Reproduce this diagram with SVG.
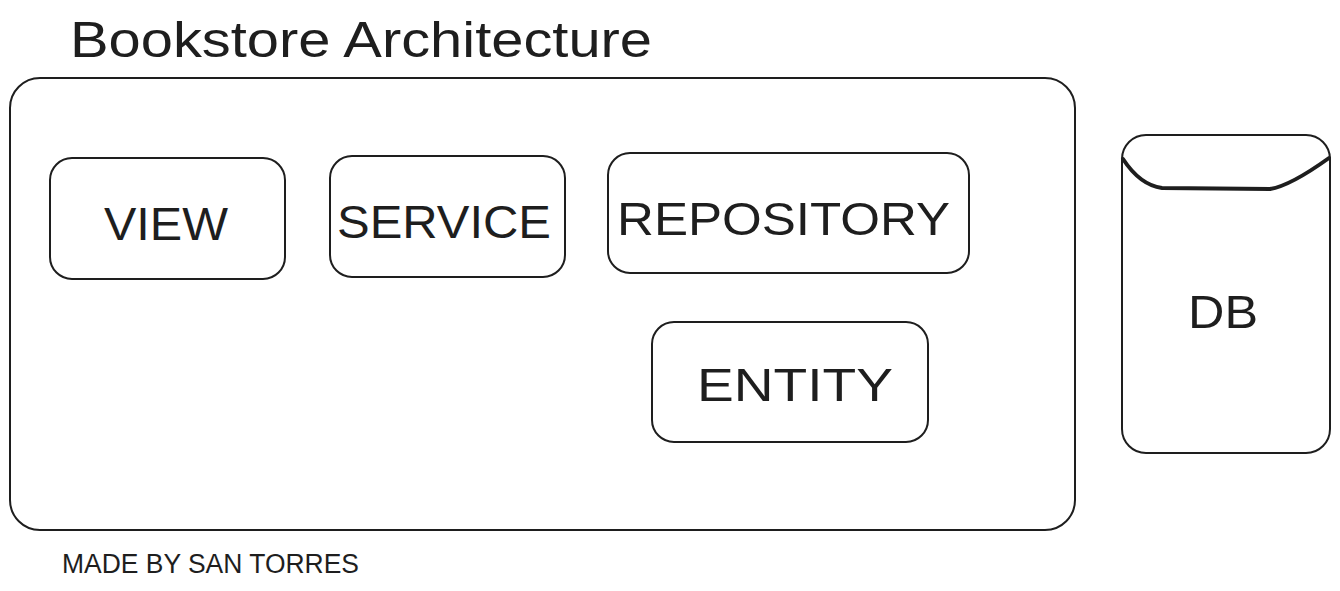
<svg xmlns="http://www.w3.org/2000/svg" width="1340" height="591" viewBox="0 0 1340 591">
<style>
.box{fill:none;stroke:#1e1e1e;stroke-width:2;stroke-linejoin:round}
.lbl{font-family:"Liberation Sans",Arial,sans-serif;fill:#1e1e1e;text-anchor:start}
.node{font-size:46px}
</style>
<rect width="1340" height="591" fill="#ffffff"/>
<text class="lbl" x="70" y="57" font-size="50" textLength="582" lengthAdjust="spacingAndGlyphs">Bookstore Architecture</text>
<g id="container">
<rect class="box" x="10" y="78" width="1065" height="452" rx="30"/>
</g>
<g id="view">
<rect class="box" x="50" y="158" width="235" height="121" rx="22"/>
<text class="lbl node" x="104" y="240" textLength="124" lengthAdjust="spacingAndGlyphs">VIEW</text>
</g>
<g id="service">
<rect class="box" x="330" y="156" width="235" height="121" rx="22"/>
<text class="lbl node" x="337" y="238" textLength="214" lengthAdjust="spacingAndGlyphs">SERVICE</text>
</g>
<g id="repository">
<rect class="box" x="608" y="153" width="361" height="120" rx="22"/>
<text class="lbl node" x="617" y="235" textLength="333" lengthAdjust="spacingAndGlyphs">REPOSITORY</text>
</g>
<g id="entity">
<rect class="box" x="652" y="322" width="276" height="120" rx="22"/>
<text class="lbl node" x="697" y="401" textLength="196" lengthAdjust="spacingAndGlyphs">ENTITY</text>
</g>
<g id="db">
<rect class="box" x="1122" y="135" width="208" height="318" rx="24"/>
<path d="M1123 159 Q1140 185 1162 188 L1270 189 Q1290 186 1329 158" fill="none" stroke="#1e1e1e" stroke-width="4" stroke-linecap="round"/>
<text class="lbl node" x="1188" y="328" textLength="70" lengthAdjust="spacingAndGlyphs">DB</text>
</g>
<g id="connectors"></g>
<text class="lbl" x="62" y="573" font-size="27" textLength="297" lengthAdjust="spacingAndGlyphs">MADE BY SAN TORRES</text>
</svg>
